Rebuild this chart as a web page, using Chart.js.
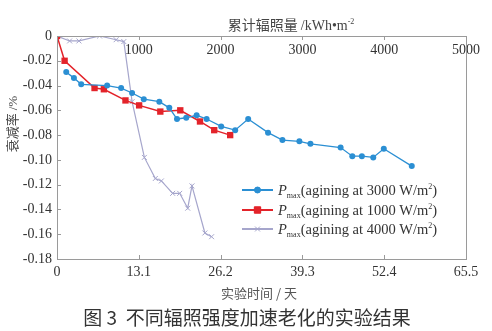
<!DOCTYPE html>
<html>
<head>
<meta charset="utf-8">
<script src="https://cdn.jsdelivr.net/npm/chart.js@4.4.1/dist/chart.umd.min.js"></script>
<style>
  html, body { margin: 0; padding: 0; background: #fff; }
  #wrap { width: 492px; height: 331px; position: relative; }
</style>
</head>
<body>
<div id="wrap"><canvas id="chart"></canvas></div>
<script>
// Cumulative irradiation (kWh/m2) and power loss for each aging intensity
const rad3000 = [113, 207, 296, 613, 784, 918, 1061, 1251, 1373, 1467, 1580, 1707, 1829, 2007, 2178, 2337, 2580, 2756, 2963, 3098, 3467, 3610, 3727, 3866, 3995, 4337];
const loss3000 = [-0.029, -0.034, -0.039, -0.040, -0.042, -0.046, -0.051, -0.053, -0.058, -0.067, -0.066, -0.064, -0.067, -0.073, -0.076, -0.067, -0.078, -0.084, -0.085, -0.087, -0.090, -0.097, -0.097, -0.098, -0.091, -0.105];

const rad1000 = [0, 93, 459, 573, 837, 1004, 1263, 1507, 1748, 1922, 2117];
const loss1000 = [0, -0.020, -0.042, -0.043, -0.052, -0.056, -0.061, -0.060, -0.069, -0.076, -0.080];

const rad4000 = [0, 154, 268, 520, 723, 817, 918, 1068, 1202, 1276, 1414, 1500, 1598, 1650, 1808, 1890];
const loss4000 = [0, -0.004, -0.004, 0, -0.003, -0.0045, -0.053, -0.098, -0.115, -0.117, -0.127, -0.127, -0.139, -0.121, -0.159, -0.162];

// axis ranges
const dayTicks = [0, 13.1, 26.2, 39.3, 52.4, 65.5];
const radTicks = [0, 1000, 2000, 3000, 4000, 5000];
const lossTicks = [0, -0.02, -0.04, -0.06, -0.08, -0.10, -0.12, -0.14, -0.16, -0.18];

const legendLabels = ['3000', '1000', '4000'];

const SERIF = '"Liberation Serif", "Times New Roman", serif';
const CJK = '"Noto Sans CJK SC", sans-serif';

Chart.defaults.font.family = SERIF;

function toPoints(xs, ys) {
  return xs.map((x, i) => ({ x, y: ys[i] }));
}

// draw a row of text pieces with different fonts / offsets
function drawRuns(ctx, runs, x, y, align) {
  let total = 0;
  runs.forEach(r => { ctx.font = r.font; r.w = ctx.measureText(r.text).width; total += r.w; });
  let cx = align === 'center' ? x - total / 2 : x;
  ctx.textAlign = 'left';
  runs.forEach(r => {
    ctx.font = r.font;
    ctx.fillText(r.text, cx, y + (r.dy || 0));
    cx += r.w;
  });
}

const decorPlugin = {
  id: 'decor',
  afterDraw(chart) {
    const ctx = chart.ctx;
    const a = chart.chartArea;
    ctx.save();

    // frame
    ctx.strokeStyle = '#9a9a9a';
    ctx.lineWidth = 1;
    ctx.strokeRect(Math.round(a.left) + 0.5, Math.round(a.top) + 0.5, Math.round(a.right - a.left), Math.round(a.bottom - a.top));

    // inward ticks
    ctx.beginPath();
    const xb = chart.scales.x, xt = chart.scales.xTop, y = chart.scales.y;
    xb.ticks.forEach((t, i) => { const px = Math.round(xb.getPixelForTick(i)) + 0.5; ctx.moveTo(px, a.bottom); ctx.lineTo(px, a.bottom - 4); });
    xt.ticks.forEach((t, i) => { const px = Math.round(xt.getPixelForTick(i)) + 0.5; ctx.moveTo(px, a.top); ctx.lineTo(px, a.top + 4); });
    y.ticks.forEach((t, i) => { const py = Math.round(y.getPixelForTick(i)) + 0.5; ctx.moveTo(a.left, py); ctx.lineTo(a.left + 4, py); });
    ctx.stroke();

    ctx.textBaseline = 'alphabetic';

    // top axis title
    ctx.fillStyle = '#444';
    drawRuns(ctx, [
      { text: '累计辐照量 ', font: '14px ' + CJK },
      { text: '/kWh•m', font: '14px ' + SERIF },
      { text: '-2', font: '8px ' + SERIF, dy: -6 }
    ], 291, 30, 'center');

    // bottom axis title
    ctx.fillStyle = '#555';
    drawRuns(ctx, [{ text: '实验时间 / 天', font: '13px ' + CJK }], 259, 298, 'center');

    // caption
    ctx.fillStyle = '#333';
    drawRuns(ctx, [{ text: '图 3  不同辐照强度加速老化的实验结果', font: '19px ' + CJK }], 247, 325, 'center');

    // y axis title
    ctx.save();
    ctx.translate(17, 124);
    ctx.rotate(-Math.PI / 2);
    ctx.fillStyle = '#444';
    drawRuns(ctx, [
      { text: '衰减率 ', font: '13px ' + CJK },
      { text: '/%', font: '13px ' + SERIF }
    ], 0, 0, 'center');
    ctx.restore();

    // legend
    const rows = [190, 210, 229];
    chart.data.datasets.forEach((ds, i) => {
      const ry = rows[i];
      ctx.strokeStyle = ds.borderColor;
      ctx.lineWidth = 2;
      ctx.beginPath();
      ctx.moveTo(242, ry);
      ctx.lineTo(273, ry);
      ctx.stroke();
      ctx.fillStyle = ds.pointBackgroundColor;
      ctx.strokeStyle = ds.borderColor;
      ctx.lineWidth = ds.pointBorderWidth || 1;
      Chart.helpers.drawPoint(ctx, { pointStyle: ds.pointStyle, radius: ds.pointRadius, rotation: 0, borderWidth: 1 }, 257.5, ry);
      if (ds.pointStyle !== 'crossRot') ctx.fill();
      ctx.fillStyle = '#333';
      drawRuns(ctx, [
        { text: 'P', font: 'italic 14.5px ' + SERIF },
        { text: 'max', font: '8px ' + SERIF, dy: 3 },
        { text: '(agining at ' + legendLabels[i] + ' W/m', font: '14.5px ' + SERIF },
        { text: '2', font: '8px ' + SERIF, dy: -6 },
        { text: ')', font: '14.5px ' + SERIF }
      ], 278, ry + 5, 'left');
    });

    ctx.restore();
  }
};

const ctx = document.getElementById('chart');
new Chart(ctx, {
  type: 'line',
  data: {
    datasets: [
      {
        label: 'Pmax (3000 W/m2)', data: toPoints(rad3000, loss3000), xAxisID: 'xTop', yAxisID: 'y',
        borderColor: '#2b8fd3', backgroundColor: '#2b8fd3', pointBackgroundColor: '#2b8fd3',
        pointStyle: 'circle', pointRadius: 3, pointBorderWidth: 0, borderWidth: 1.3
      },
      {
        label: 'Pmax (1000 W/m2)', data: toPoints(rad1000, loss1000), xAxisID: 'xTop', yAxisID: 'y',
        borderColor: '#e3232a', backgroundColor: '#e3232a', pointBackgroundColor: '#e3232a',
        pointStyle: 'rect', pointRadius: 4.5, pointBorderWidth: 0, borderWidth: 1.5
      },
      {
        label: 'Pmax (4000 W/m2)', data: toPoints(rad4000, loss4000), xAxisID: 'xTop', yAxisID: 'y',
        borderColor: '#a6a6cc', backgroundColor: '#a6a6cc', pointBackgroundColor: '#a6a6cc',
        pointStyle: 'crossRot', pointRadius: 3.5, pointBorderWidth: 1, borderWidth: 1.2
      }
    ]
  },
  options: {
    responsive: true,
    maintainAspectRatio: false,
    animation: false,
    layout: { padding: { left: 0, right: 26, top: 0, bottom: 0 } },
    plugins: { legend: { display: false }, tooltip: { enabled: false } },
    elements: { line: { tension: 0 } },
    scales: {
      x: {
        type: 'linear', position: 'bottom',
        min: dayTicks[0], max: dayTicks[dayTicks.length - 1],
        afterBuildTicks: s => { s.ticks = dayTicks.map(v => ({ value: v })); },
        afterFit: s => { s.height = 72; },
        grid: { display: false, drawTicks: false },
        border: { display: false },
        ticks: { color: '#333', font: { family: SERIF, size: 14 }, padding: 5, maxRotation: 0,
          callback: v => v === 0 ? '0' : v.toFixed(1) }
      },
      xTop: {
        type: 'linear', position: 'top',
        min: radTicks[0], max: radTicks[radTicks.length - 1],
        afterBuildTicks: s => { s.ticks = radTicks.map(v => ({ value: v })); },
        afterFit: s => { s.height = 36; },
        grid: { display: false, drawTicks: false },
        border: { display: false },
        ticks: { color: '#333', font: { family: SERIF, size: 14 }, mirror: true, padding: 6, maxRotation: 0,
          callback: v => v === 0 ? '' : String(v) }
      },
      y: {
        type: 'linear', position: 'left',
        min: -0.18, max: 0,
        afterBuildTicks: s => { s.ticks = lossTicks.map(v => ({ value: v })); },
        afterFit: s => { s.width = 57; },
        grid: { display: false, drawTicks: false },
        border: { display: false },
        ticks: { color: '#333', font: { family: SERIF, size: 14 }, padding: 5,
          callback: v => v === 0 ? '0' : v.toFixed(2) }
      }
    }
  },
  plugins: [decorPlugin]
});
</script>
</body>
</html>
